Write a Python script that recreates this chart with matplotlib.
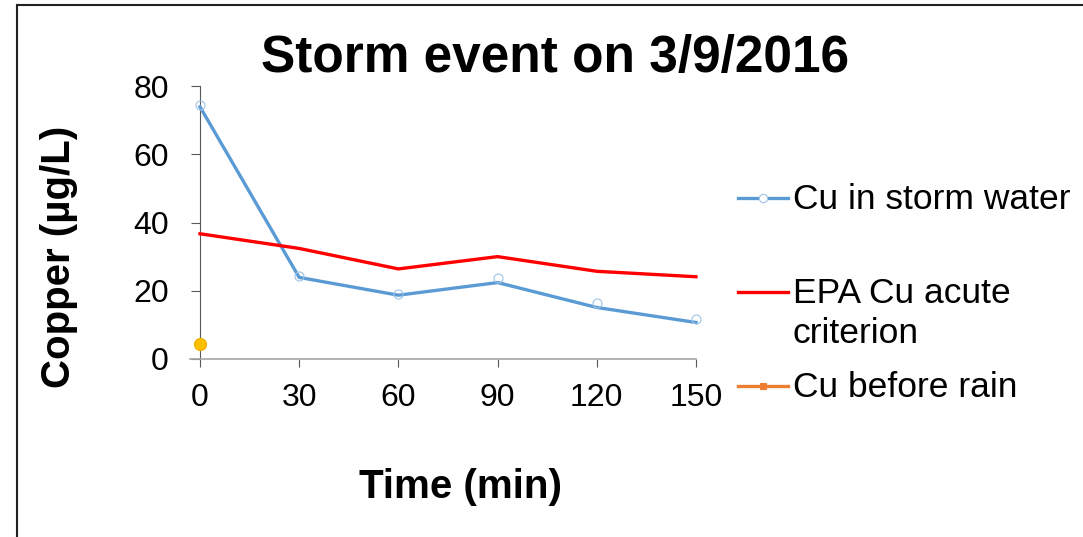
import matplotlib.pyplot as plt
from matplotlib.lines import Line2D

plt.rcParams['font.family'] = ['Liberation Sans', 'DejaVu Sans']

# data
time_min = [0, 30, 60, 90, 120, 150]
cu_storm = [73.9, 23.9, 18.7, 22.4, 15.1, 10.7]
cu_storm_pts = [74.4, 24.4, 19.0, 23.7, 16.3, 11.7]
epa_acute = [36.7, 32.4, 26.4, 30.0, 25.7, 24.1]
before_time = [0]
cu_before = [4.4]
yticks = [0, 20, 40, 60, 80]
legend_labels = ["Cu in storm water", "EPA Cu acute\ncriterion", "Cu before rain"]

W, H = 1083, 537
fig = plt.figure(figsize=(W / 100, H / 100), dpi=100)
fig.patch.set_facecolor('white')
ax = fig.add_axes([200 / W, (H - 359) / H, 496 / W, 273 / H])

blue = '#5B9BD5'
red = '#FF0000'
gold = '#FFC000'
orange = '#ED7D31'

ax.plot(time_min, cu_storm, color=blue, lw=2.4, clip_on=False, zorder=3)
ax.plot(time_min, cu_storm_pts, ls='none', marker='o', ms=6.5, mfc='none',
        mec='#9DC3E6', mew=0.8, clip_on=False, zorder=4)
ax.plot(time_min, epa_acute, color=red, lw=2.4, clip_on=False, zorder=3)
ax.plot(before_time, cu_before, ls='none', marker='o', ms=8.5, color=gold,
        mec='#F0B000', clip_on=False, zorder=5)

ax.set_xlim(0, 150)
ax.set_ylim(0, 80)
ax.set_xticks(time_min)
ax.set_yticks(yticks)
for s in ['top', 'right']:
    ax.spines[s].set_visible(False)
ax.spines['left'].set_color('#595959')
ax.spines['left'].set_linewidth(0.8)
ax.spines['bottom'].set_color('#A6A6A6')
ax.spines['bottom'].set_linewidth(1.2)
ax.spines['bottom'].set_bounds(-3, 150)
ax.tick_params(axis='y', length=6.5, width=0.8, color='#595959', labelsize=23, pad=16)
ax.tick_params(axis='x', length=6, width=0.8, color='#595959', labelsize=23, pad=11)

ax.set_xlabel('Time (min)', fontsize=29, fontweight='bold')
ax.xaxis.set_label_coords(0.526, -0.40)
ax.set_ylabel('Copper (µg/L)', fontsize=29, fontweight='bold')
ax.yaxis.set_label_coords(-0.246, 0.374)

fig.text(555 / W, (H - 72) / H, 'Storm event on 3/9/2016', fontsize=37,
         fontweight='bold', ha='center', va='baseline')

# legend drawn by hand to follow the original spacing
handles = [
    dict(color=blue, marker='o', mfc='white', mec='#9DC3E6', ms=6),
    dict(color=red, marker=None),
    dict(color=orange, marker='s', mfc=orange, mec=orange, ms=5),
]
rows_y = [198, 292, 386]
for lab, hd, y in zip(legend_labels, handles, rows_y):
    yf = (H - y) / H
    fig.add_artist(Line2D([738 / W, 788 / W], [yf, yf], color=hd['color'], lw=2.4))
    if hd['marker']:
        fig.add_artist(Line2D([763 / W], [yf], ls='none', marker=hd['marker'],
                              ms=hd['ms'], mfc=hd['mfc'], mec=hd['mec'], mew=0.8))
    for k, line in enumerate(lab.split('\n')):
        fig.text(793 / W, (H - (y + 11 + 40 * k)) / H, line, fontsize=25.5,
                 ha='left', va='baseline')

# slide frame
fig.add_artist(Line2D([17 / W, 17 / W], [0, (H - 5) / H], color='#222222', lw=1.5))
fig.add_artist(Line2D([17 / W, 1], [(H - 5) / H, (H - 5) / H], color='#222222', lw=1.5))

fig.savefig('out.png', dpi=100, facecolor='white')
